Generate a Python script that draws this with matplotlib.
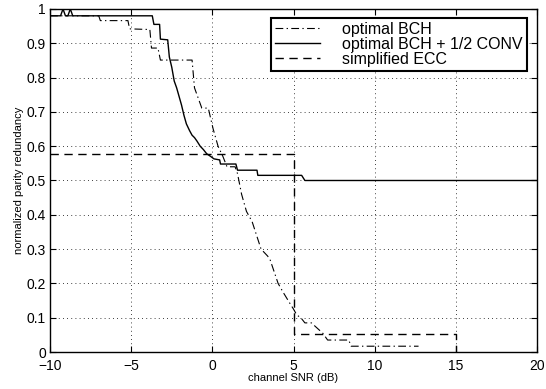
import matplotlib
matplotlib.use('Agg')
import matplotlib.pyplot as plt

plt.rcParams['font.family'] = ['Liberation Sans', 'DejaVu Sans']

# optimal BCH (dash-dot)
bch_x = [-10, -7.0, -6.9, -5.2, -5.1, -3.85, -3.75, -3.35, -3.2, -1.25, -1.1, -0.65,
         -0.25, -0.1, 0.05, 0.35, 0.65, 0.9, 1.4, 1.55, 1.8, 2.1, 2.45, 3.0, 3.4, 3.55,
         4.05, 4.35, 4.8, 5.0, 5.2, 5.45, 5.7, 6.1, 6.45, 6.8, 7.1, 8.4, 8.55, 12.7]
bch_y = [0.98, 0.98, 0.966, 0.966, 0.942, 0.94, 0.886, 0.886, 0.851, 0.851, 0.77, 0.711,
         0.711, 0.68, 0.65, 0.6, 0.57, 0.54, 0.54, 0.52, 0.46, 0.41, 0.38, 0.3, 0.28, 0.27,
         0.2, 0.175, 0.14, 0.125, 0.108, 0.1, 0.085, 0.085, 0.07, 0.055, 0.035, 0.035, 0.017, 0.017]

# optimal BCH + 1/2 CONV (solid)
conv_x = [-10, -9.35, -9.2, -9.05, -8.9, -8.75, -8.6, -3.7, -3.6, -3.25, -3.2, -2.75,
          -2.65, -2.5, -2.35, -2.2, -2.05, -1.9, -1.75, -1.6, -1.4, -1.25, -1.1, -0.95,
          -0.75, -0.55, -0.35, -0.1, 0.1, 0.45, 0.5, 1.45, 1.55, 2.75, 2.8, 5.5, 5.7, 20]
conv_y = [0.98, 0.98, 1.0, 0.98, 0.98, 1.0, 0.98, 0.98, 0.955, 0.955, 0.912, 0.91,
          0.86, 0.83, 0.79, 0.77, 0.745, 0.72, 0.69, 0.665, 0.645, 0.632, 0.625, 0.615,
          0.6, 0.59, 0.578, 0.57, 0.563, 0.56, 0.548, 0.548, 0.53, 0.53, 0.515, 0.515, 0.5, 0.5]

# simplified ECC (dashed)
ecc_x = [-10, 5, 5, 15, 15]
ecc_y = [0.577, 0.577, 0.053, 0.053, 0.0]

fig = plt.figure(figsize=(5.46, 3.89), dpi=100)
ax = fig.add_axes([0.0916, 0.095, 0.892, 0.882])

ax.plot(bch_x, bch_y, color='black', lw=0.8, linestyle=(0, (7, 3, 1.2, 3)), label='optimal BCH')
ax.plot(conv_x, conv_y, color='black', lw=1.0, linestyle='-', label='optimal BCH + 1/2 CONV')
ax.plot(ecc_x, ecc_y, color='black', lw=1.0, linestyle=(0, (6, 4)), label='simplified ECC')

ax.set_xlim(-10, 20)
ax.set_ylim(0, 1)
ax.set_xticks([-10, -5, 0, 5, 10, 15, 20])
ax.set_yticks([0, 0.1, 0.2, 0.3, 0.4, 0.5, 0.6, 0.7, 0.8, 0.9, 1])
ax.set_yticklabels(['0', '0.1', '0.2', '0.3', '0.4', '0.5', '0.6', '0.7', '0.8', '0.9', '1'])
ax.tick_params(direction='in', top=True, right=True, labelsize=10, length=4, width=0.8, pad=3)
ax.tick_params(axis='x', pad=5)
ax.grid(True, color='black', linestyle=(0, (1, 4)), linewidth=0.6)
for s in ax.spines.values():
    s.set_linewidth(1.0)

ax.set_xlabel('channel SNR (dB)', fontsize=8, labelpad=0)
ax.set_ylabel('normalized parity redundancy', fontsize=8, labelpad=2)

leg = ax.legend(loc='upper right', bbox_to_anchor=(0.979, 0.974), fontsize=11.5,
                fancybox=False, framealpha=1, edgecolor='black', borderpad=0.25,
                labelspacing=0.0, handlelength=2.8, handletextpad=1.4, borderaxespad=0)
leg.get_frame().set_linewidth(1.5)

fig.savefig('out.png', dpi=100)
